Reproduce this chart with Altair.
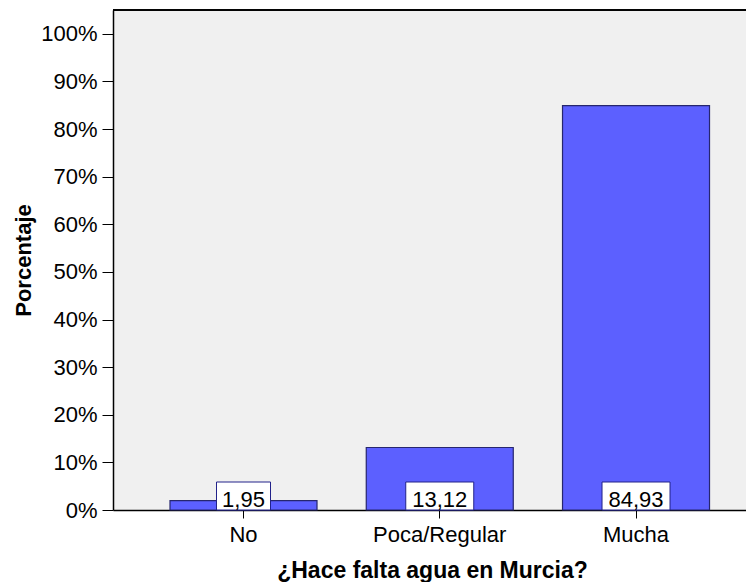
import altair as alt
import pandas as pd

categories = ["No", "Poca/Regular", "Mucha"]
values = [1.95, 13.12, 84.93]
labels = [f"{v:.2f}".replace(".", ",") for v in values]
y_ticks = [0, 10, 20, 30, 40, 50, 60, 70, 80, 90, 100]

df = pd.DataFrame({"cat": categories, "val": values, "lab": labels})

FONT = "Liberation Sans"
W, H = 633, 500

x_enc = alt.X(
    "cat:N",
    sort=categories,
    scale=alt.Scale(paddingInner=0.25, paddingOuter=0.2377, align=0.61),
    axis=alt.Axis(
        title="¿Hace falta agua en Murcia?",
        titleFont=FONT, titleFontSize=23, titleFontWeight="bold", titleColor="#000",
        titleX=319, titleY=67, titleBaseline="alphabetic", titleAnchor="middle", titleAlign="center",
        labelFont=FONT, labelFontSize=22, labelColor="#000", labelAngle=0,
        labelBaseline="alphabetic", labelPadding=23.5,
        tickSize=8, tickColor="#000", tickWidth=1,
        domainColor="#000", domainWidth=1.5, grid=False,
    ),
)

y_enc = alt.Y(
    "val:Q",
    scale=alt.Scale(domain=[0, 105], nice=False),
    axis=alt.Axis(
        title="Porcentaje",
        titleFont=FONT, titleFontSize=22, titleFontWeight="bold", titleColor="#000",
        titleAngle=-90, titleX=-90, titleY=H / 2, titleBaseline="middle", titleAlign="center",
        values=y_ticks, labelExpr="datum.value + '%'",
        labelFont=FONT, labelFontSize=22, labelColor="#000", labelPadding=5,
        tickSize=11, tickColor="#000", tickWidth=1,
        domainColor="#000", domainWidth=1.5, grid=False,
    ),
)

base = alt.Chart(df)

bars = base.mark_bar(size=147, color="#5c60ff", stroke="#26266e", strokeWidth=1.2).encode(
    x=x_enc, y=y_enc
)

boxes = base.transform_calculate(bw="length(datum.lab) * 14 - 2").mark_bar(
    color="#ffffff", stroke="#22228a", strokeWidth=1
).encode(
    x=alt.X("cat:N", sort=categories),
    y=alt.value(H - 28),
    y2=alt.value(H),
    size=alt.Size("bw:Q", scale=None, legend=None),
)

texts = base.mark_text(
    font=FONT, fontSize=22, color="#000", baseline="alphabetic", align="center", dy=-3
).encode(
    x=alt.X("cat:N", sort=categories),
    y=alt.datum(0),
    text="lab:N",
)

top_rule = base.mark_rule(color="#000", strokeWidth=1.5).encode(
    x=alt.value(0), x2=alt.value(W), y=alt.value(0)
)

chart = (
    alt.layer(bars, boxes, texts, top_rule)
    .properties(
        width=W,
        height=H,
        autosize=alt.AutoSizeParams(type="none"),
        padding={"left": 105, "top": 2, "right": 0, "bottom": 72},
        background="#ffffff",
    )
    .configure_view(fill="#f0f0f0", stroke="transparent")
)

chart.save("out.html", embed_options={"renderer": "svg", "actions": False})
